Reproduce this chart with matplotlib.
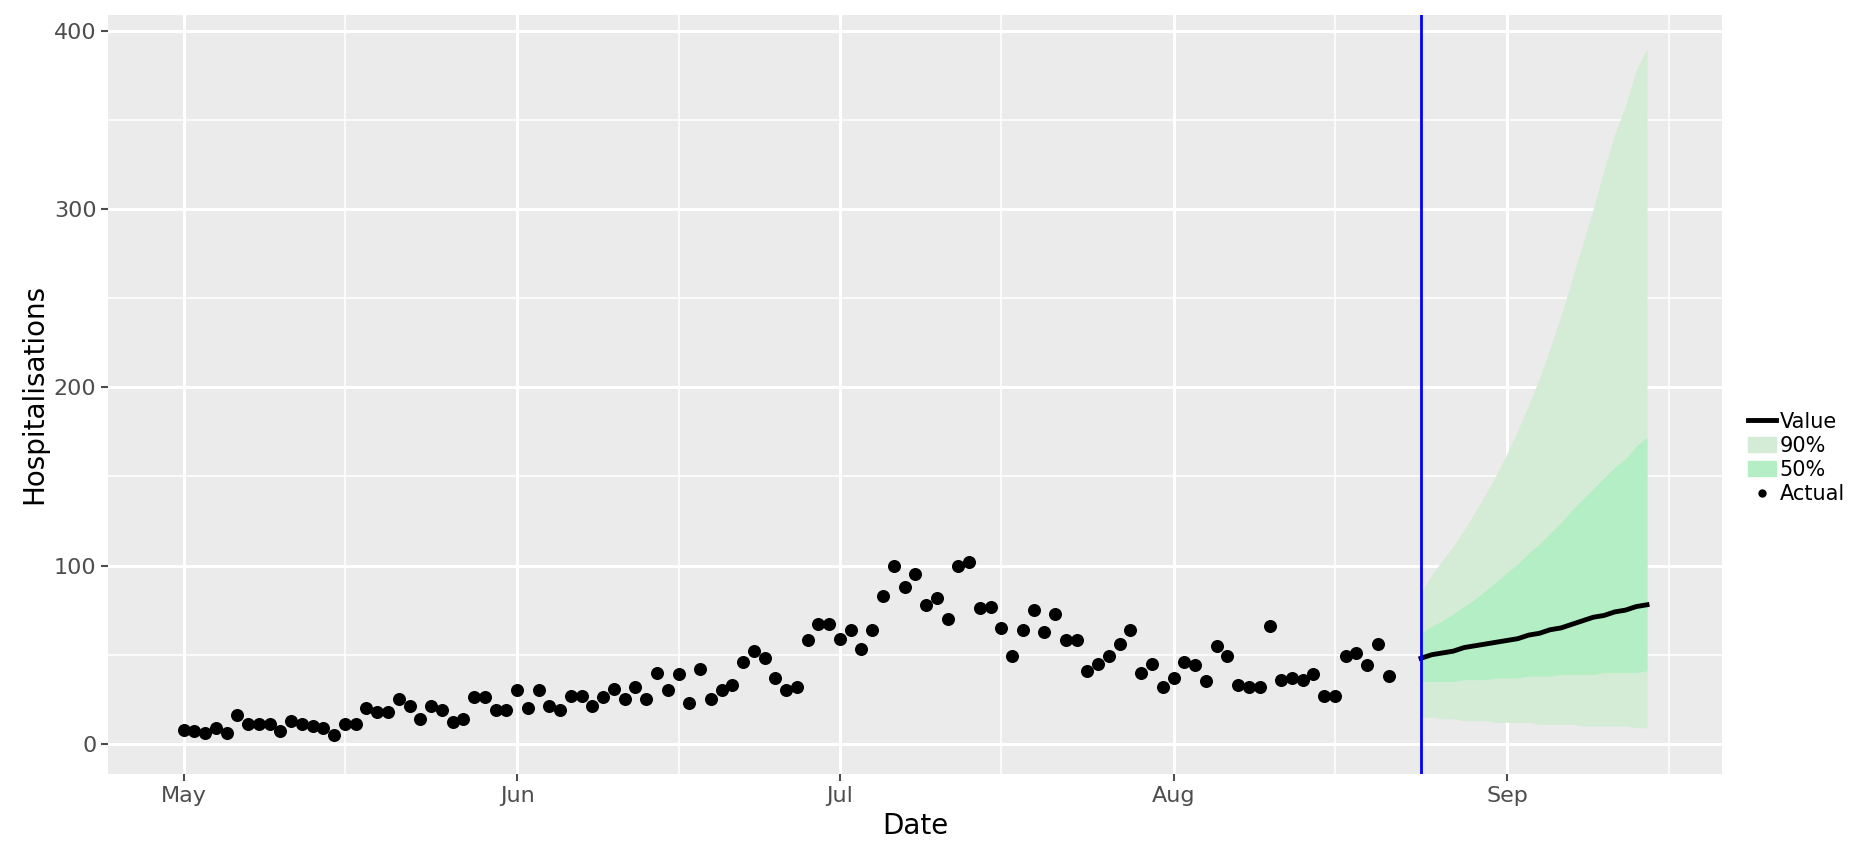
import numpy as np
import pandas as pd
import matplotlib
matplotlib.use("Agg")
import matplotlib.pyplot as plt
import matplotlib.dates as mdates
from matplotlib.lines import Line2D
from matplotlib.patches import Patch

actual = [8, 7, 6, 9, 6, 16, 11, 11, 11, 7, 13, 11, 10, 9, 5, 11, 11, 20, 18, 18, 25, 21, 14, 21, 19, 12, 14, 26, 26, 19, 19,
          30, 20, 30, 21, 19, 27, 27, 21, 26, 31, 25, 32, 25, 40, 30, 39, 23, 42, 25, 30, 33, 46, 52, 48, 37, 30, 32, 58, 67, 67,
          59, 64, 53, 64, 83, 100, 88, 95, 78, 82, 70, 100, 102, 76, 77, 65, 49, 64, 75, 63, 73, 58, 58, 41, 45, 49, 56, 64, 40, 45, 32,
          37, 46, 44, 35, 55, 49, 33, 32, 32, 66, 36, 37, 36, 39, 27, 27, 49, 51, 44, 56, 38]
actual_dates = pd.date_range("2020-05-01", periods=len(actual), freq="D")

median = [48, 50, 51, 52, 54, 55, 56, 57, 58, 59, 61, 62, 64, 65, 67, 69, 71, 72, 74, 75, 77, 78]
upper90 = [85, 95, 103, 111, 120, 130, 140, 151, 163, 176, 190, 205, 222, 240, 260, 280, 300, 322, 342, 358, 378, 390]
lower90 = [15, 15, 14, 14, 13, 13, 13, 12, 12, 12, 12, 11, 11, 11, 11, 10, 10, 10, 10, 10, 9, 9]
upper50 = [62, 66, 69, 73, 77, 81, 86, 91, 96, 101, 107, 112, 118, 124, 131, 137, 143, 149, 155, 160, 167, 172]
lower50 = [35, 35, 35, 35, 36, 36, 36, 37, 37, 37, 38, 38, 38, 39, 39, 39, 39, 40, 40, 40, 40, 41]
fc_dates = pd.date_range("2020-08-24", periods=len(median), freq="D")
cutoff = pd.Timestamp("2020-08-24")

fig = plt.figure(figsize=(18.66, 8.64), dpi=100)
ax = fig.add_axes([0.058, 0.104, 0.865, 0.879])
ax.set_facecolor("#ebebeb")
for s in ax.spines.values():
    s.set_visible(False)

ax.fill_between(fc_dates, lower90, upper90, color="#d4ecd6", lw=0, zorder=2)
ax.fill_between(fc_dates, lower50, upper50, color="#b4eec4", lw=0, zorder=3)
ax.plot(fc_dates, median, color="black", lw=3.5, zorder=4)
ax.scatter(actual_dates, actual, color="black", s=70, zorder=5)
ax.axvline(cutoff, color="#0000ff", lw=2, zorder=6)

ax.set_xlim(pd.Timestamp("2020-04-24"), pd.Timestamp("2020-09-21"))
ax.set_ylim(-17, 409)
ax.set_yticks([0, 100, 200, 300, 400])
ax.set_yticks([50, 150, 250, 350], minor=True)
ax.xaxis.set_major_locator(mdates.MonthLocator())
ax.xaxis.set_major_formatter(mdates.DateFormatter("%b"))
ax.xaxis.set_minor_locator(mdates.MonthLocator(bymonthday=16))
ax.grid(which="major", color="white", lw=2.2, zorder=0)
ax.grid(which="minor", color="white", lw=1.1, zorder=0)
ax.set_axisbelow(True)
ax.tick_params(which="major", labelsize=16, colors="#4d4d4d", length=5, width=1.5, labelcolor="#4d4d4d")
ax.tick_params(which="minor", length=0)
ax.set_xlabel("Date", fontsize=20)
ax.set_ylabel("Hospitalisations", fontsize=20)

handles = [Line2D([], [], color="black", lw=3.5),
           Patch(color="#d4ecd6"),
           Patch(color="#b4eec4"),
           Line2D([], [], color="black", marker="o", ls="", ms=5)]
fig.legend(handles, ["Value", "90%", "50%", "Actual"], loc="center left",
           bbox_to_anchor=(0.937, 0.47), frameon=False, fontsize=15,
           handlelength=1.3, handletextpad=0.2, labelspacing=0.2, borderaxespad=0, borderpad=0)

fig.savefig("out.png", dpi=100)
